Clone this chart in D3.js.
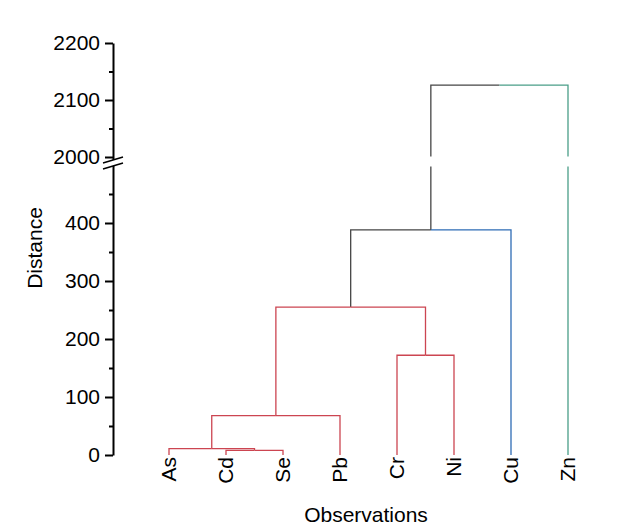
<!DOCTYPE html>
<html>
<head>
<meta charset="utf-8">
<script src="https://cdn.jsdelivr.net/npm/d3@7"></script>
<style>
  body { margin: 0; background: #fff; }
  svg { display: block; font-family: "Liberation Sans", Arial, sans-serif; }
</style>
</head>
<body>
<svg id="chart" width="619" height="525"></svg>
<script>
// leaves in drawing order
const leaves = ["As", "Cd", "Se", "Pb", "Cr", "Ni", "Cu", "Zn"];
// merge i joins mergeA[i] and mergeB[i] into "C" + (i + 1)
const mergeA = ["Cd", "As", "C2", "Cr", "C3", "C5", "C6"];
const mergeB = ["Se", "C1", "Pb", "Ni", "C4", "Cu", "Zn"];
const mergeHeight = [8, 11, 68, 172, 255, 388, 2126];

// colour groups (cluster cut)
const groupLeaves = [["As", "Cd", "Se", "Pb", "Cr", "Ni"], ["Cu"], ["Zn"]];
const groupColors = ["#cc4551", "#2e6cb5", "#4a9e88"];
const darkColor = "#454545";

const majorTicks = [0, 100, 200, 300, 400, 2000, 2100, 2200];
const minorTicks = [50, 150, 250, 350, 450, 2050, 2150];

const svg = d3.select("#chart");

// broken y axis: 0-500 below, 2000-2200 above
const y = d3.scaleLinear()
  .domain([0, 500, 2000, 2200])
  .range([455, 165, 157, 43]);

const x = d3.scalePoint()
  .domain(leaves)
  .range([169, 568]);

const axisX = 113;

// build tree
const nodes = {};
leaves.forEach(l => nodes[l] = { id: l, h: 0 });
mergeA.forEach((a, i) => {
  const id = "C" + (i + 1);
  nodes[id] = { id, h: mergeHeight[i], children: [nodes[a], nodes[mergeB[i]]] };
});
const root = d3.hierarchy(nodes["C" + mergeA.length]);

root.eachAfter(d => {
  d.px = d.children ? d3.mean(d.children, c => c.px) : x(d.data.id);
});

function linkColor(d) {
  const ls = d.leaves().map(l => l.data.id);
  for (let g = 0; g < groupLeaves.length; g++) {
    const grp = groupLeaves[g];
    if (ls.every(l => grp.includes(l))) {
      // the whole multi-leaf group joins upward in dark
      if (ls.length > 1 && ls.length === grp.length) return darkColor;
      return groupColors[g];
    }
  }
  return darkColor;
}

const g = svg.append("g");

g.selectAll("path.link")
  .data(root.descendants().filter(d => d.parent))
  .join("path")
  .attr("class", "link")
  .attr("fill", "none")
  .attr("stroke", d => linkColor(d))
  .attr("stroke-width", 1.3)
  .attr("d", d => `M${d.px},${y(d.data.h)}V${y(d.parent.data.h)}H${d.parent.px}`);

// gap in lines at the break
svg.append("rect")
  .attr("x", axisX + 8).attr("y", 156.5)
  .attr("width", 619).attr("height", 10)
  .attr("fill", "#fff");

// axes
const yAxis = svg.append("g")
  .attr("transform", `translate(${axisX},0)`)
  .call(d3.axisLeft(y).tickValues(majorTicks).tickSize(8).tickSizeOuter(0).tickPadding(5).tickFormat(d3.format("d")));
yAxis.select(".domain").attr("stroke-width", 2);
yAxis.selectAll(".tick line").attr("stroke-width", 2);
yAxis.selectAll(".tick text").attr("font-size", 21).attr("font-family", "Liberation Sans, Arial, sans-serif").attr("fill", "#000");

const yMinor = svg.append("g")
  .attr("transform", `translate(${axisX},0)`)
  .call(d3.axisLeft(y).tickValues(minorTicks).tickSize(4).tickSizeOuter(0).tickFormat(""));
yMinor.select(".domain").remove();
yMinor.selectAll(".tick line").attr("stroke-width", 2);

// break marks
const bc = 163;
svg.append("path")
  .attr("d", `M${axisX - 10},${bc}L${axisX + 10},${bc - 6}L${axisX + 10},${bc}L${axisX - 10},${bc + 6}Z`)
  .attr("fill", "#fff");
[0, 6].forEach(o => {
  svg.append("line")
    .attr("x1", axisX - 10).attr("y1", bc + o)
    .attr("x2", axisX + 10).attr("y2", bc - 6 + o)
    .attr("stroke", "#000").attr("stroke-width", 1.5);
});

// leaf labels
svg.selectAll("text.leaf")
  .data(leaves)
  .join("text")
  .attr("class", "leaf")
  .attr("transform", d => `translate(${x(d)},457) rotate(-90)`)
  .attr("text-anchor", "end")
  .attr("dy", "0.35em")
  .attr("font-size", 21)
  .text(d => d);

// axis titles
svg.append("text")
  .attr("x", 366).attr("y", 522)
  .attr("text-anchor", "middle")
  .attr("font-size", 21)
  .text("Observations");

svg.append("text")
  .attr("transform", "translate(42,248) rotate(-90)")
  .attr("text-anchor", "middle")
  .attr("font-size", 21)
  .text("Distance");
</script>
</body>
</html>
